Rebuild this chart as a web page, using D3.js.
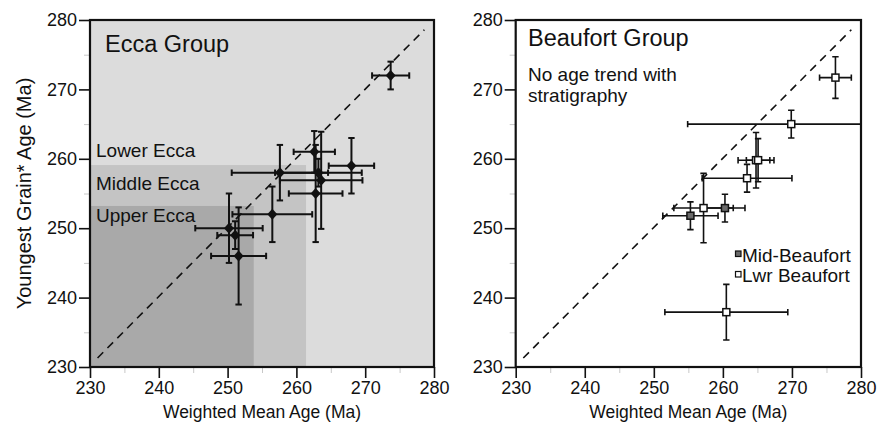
<!DOCTYPE html>
<html><head><meta charset="utf-8">
<script src="https://cdn.jsdelivr.net/npm/d3@7"></script>
<style>
body{margin:0;background:#fff;}
text{font-family:"Liberation Sans",Arial,sans-serif;fill:#111;}
</style></head>
<body><svg id="c" width="877" height="428"></svg>
<script>
// ---- data ----
const axisTicks = [230, 240, 250, 260, 270, 280];
const minorTicks = [235, 245, 255, 265, 275];
const domain = [230, 280];

// Ecca Group (left)
const eccaX    = [273.7, 262.6, 263.2, 257.6, 263.6, 262.8, 268.0, 256.5, 250.2, 251.1, 251.6];
const eccaY    = [272.0, 261.0, 258.0, 258.0, 256.9, 255.0, 259.0, 252.0, 250.0, 249.0, 246.0];
const eccaXErr = [2.7, 3.0, 6.3, 7.0, 6.0, 3.9, 3.3, 5.8, 4.9, 2.6, 4.0];
const eccaYErr = [2.0, 3.0, 2.0, 4.0, 7.0, 7.0, 4.0, 4.0, 5.0, 2.0, 7.0];

// stratigraphic zones (upper bound of x and y for each shaded box)
const zoneNames = ["Lower Ecca", "Middle Ecca", "Upper Ecca"];
const zoneXMax  = [280, 261.4, 253.8];
const zoneYMax  = [280, 259.1, 253.2];
const zoneFill  = ["#dcdcdc", "#c4c4c4", "#a9a9a9"];

// Beaufort Group (right)
const lwrX    = [276.3, 269.9, 264.8, 265.1, 263.5, 257.2, 260.5];
const lwrY    = [271.7, 265.0, 259.8, 259.8, 257.2, 252.9, 237.9];
const lwrXErr = [2.3, 15.0, 2.6, 1.7, 6.5, 4.3, 8.9];
const lwrYErr = [3.0, 2.0, 4.0, 3.1, 2.0, 5.0, 4.0];
const midX    = [255.3, 260.3];
const midY    = [251.8, 252.9];
const midXErr = [4.0, 2.9];
const midYErr = [2.0, 2.0];

const svg = d3.select("#c");
const plotTop = 20, plotBottom = 367;

function panel(x0, x1, id) {
  const x = d3.scaleLinear().domain(domain).range([x0, x1]);
  const y = d3.scaleLinear().domain(domain).range([plotBottom, plotTop]);
  const g = svg.append("g");
  svg.append("clipPath").attr("id", id).append("rect")
    .attr("x", x0).attr("y", plotTop).attr("width", x1 - x0).attr("height", plotBottom - plotTop);
  return {x, y, g, x0, x1};
}

function axes(p) {
  const minL = p.g.append("g").attr("transform", `translate(${p.x0},0)`)
    .call(d3.axisLeft(p.y).tickValues(minorTicks).tickSize(6).tickFormat(""));
  const minB = p.g.append("g").attr("transform", `translate(0,${plotBottom})`)
    .call(d3.axisBottom(p.x).tickValues(minorTicks).tickSize(6).tickFormat(""));
  [minL, minB].forEach(a => { a.select(".domain").remove(); a.selectAll("line").attr("stroke", "#c8c8c8").attr("stroke-width", 1); });
  const L = p.g.append("g").attr("transform", `translate(${p.x0},0)`)
    .call(d3.axisLeft(p.y).tickValues(axisTicks).tickSize(11).tickPadding(2).tickFormat(d3.format("d")));
  const B = p.g.append("g").attr("transform", `translate(0,${plotBottom})`)
    .call(d3.axisBottom(p.x).tickValues(axisTicks).tickSize(11).tickPadding(3).tickFormat(d3.format("d")));
  [L, B].forEach(a => {
    a.select(".domain").remove();
    a.selectAll("line").attr("stroke", "#111").attr("stroke-width", 1.6);
    a.selectAll("text").attr("font-size", 18).attr("font-family", "Liberation Sans, Arial, sans-serif").attr("fill", "#111");
  });
  p.g.append("rect").attr("x", p.x0).attr("y", plotTop).attr("width", p.x1 - p.x0).attr("height", plotBottom - plotTop)
    .attr("fill", "none").attr("stroke", "#111").attr("stroke-width", 2.2);
}

function oneToOne(p) {
  p.g.append("line")
    .attr("x1", p.x(231.1)).attr("y1", p.y(231.3))
    .attr("x2", p.x(278.6)).attr("y2", p.y(278.6))
    .attr("stroke", "#111").attr("stroke-width", 1.6).attr("stroke-dasharray", "8,6");
}

function errorBars(p, xs, ys, xe, ye, clip, sw) {
  const g = p.g.append("g").attr("clip-path", `url(#${clip})`).attr("stroke", "#111").attr("stroke-width", sw);
  const cap = 3.2;
  xs.forEach((v, i) => {
    const cx = p.x(v), cy = p.y(ys[i]);
    const xa = p.x(v - xe[i]), xb = p.x(v + xe[i]);
    const ya = p.y(ys[i] - ye[i]), yb = p.y(ys[i] + ye[i]);
    if (xe[i] > 0) {
      g.append("line").attr("x1", xa).attr("x2", xb).attr("y1", cy).attr("y2", cy);
      g.append("line").attr("x1", xa).attr("x2", xa).attr("y1", cy - cap).attr("y2", cy + cap);
      g.append("line").attr("x1", xb).attr("x2", xb).attr("y1", cy - cap).attr("y2", cy + cap);
    }
    g.append("line").attr("x1", cx).attr("x2", cx).attr("y1", ya).attr("y2", yb);
    g.append("line").attr("x1", cx - cap).attr("x2", cx + cap).attr("y1", ya).attr("y2", ya);
    g.append("line").attr("x1", cx - cap).attr("x2", cx + cap).attr("y1", yb).attr("y2", yb);
  });
}

// ---------- Left panel ----------
const A = panel(90, 434, "clipA");
zoneNames.forEach((n, i) => {
  A.g.append("rect").attr("x", A.x(230)).attr("y", A.y(zoneYMax[i]))
    .attr("width", A.x(zoneXMax[i]) - A.x(230)).attr("height", A.y(230) - A.y(zoneYMax[i]))
    .attr("fill", zoneFill[i]);
});
oneToOne(A);
errorBars(A, eccaX, eccaY, eccaXErr, eccaYErr, "clipA", 2);
A.g.append("g").selectAll("path").data(eccaX).join("path")
  .attr("transform", (d, i) => `translate(${A.x(d)},${A.y(eccaY[i])})`)
  .attr("d", "M0,-5.5L5,0L0,5.5L-5,0Z").attr("fill", "#111");
axes(A);
A.g.append("text").attr("x", 105).attr("y", 52).attr("font-size", 23.5).text("Ecca Group");
const zoneLabelY = [157, 189.5, 222];
zoneNames.forEach((n, i) => {
  A.g.append("text").attr("x", 96).attr("y", zoneLabelY[i]).attr("font-size", 19).text(n);
});
svg.append("text").attr("x", A.x(255)).attr("y", 418).attr("text-anchor", "middle").attr("font-size", 17.5)
  .text("Weighted Mean Age (Ma)");
svg.append("text").attr("transform", `translate(31,${A.y(255)}) rotate(-90)`).attr("text-anchor", "middle")
  .attr("font-size", 20).text("Youngest Grain* Age (Ma)");

// ---------- Right panel ----------
const Bp = panel(515.7, 861, "clipB");
Bp.g.append("rect").attr("x", Bp.x0).attr("y", plotTop).attr("width", Bp.x1 - Bp.x0).attr("height", plotBottom - plotTop).attr("fill", "#fff");
oneToOne(Bp);
errorBars(Bp, midX, midY, midXErr, midYErr, "clipB", 1.6);
errorBars(Bp, lwrX, lwrY, lwrXErr, lwrYErr, "clipB", 1.6);
const sq = 7;
Bp.g.append("g").selectAll("rect").data(midX).join("rect")
  .attr("x", d => Bp.x(d) - sq / 2).attr("y", (d, i) => Bp.y(midY[i]) - sq / 2)
  .attr("width", sq).attr("height", sq).attr("fill", "#6a6a6a").attr("stroke", "#111").attr("stroke-width", 1.5);
Bp.g.append("g").selectAll("rect").data(lwrX).join("rect")
  .attr("x", d => Bp.x(d) - sq / 2).attr("y", (d, i) => Bp.y(lwrY[i]) - sq / 2)
  .attr("width", sq).attr("height", sq).attr("fill", "#fff").attr("stroke", "#111").attr("stroke-width", 1.5);
axes(Bp);
Bp.g.append("text").attr("x", 528).attr("y", 46).attr("font-size", 23.5).text("Beaufort Group");
Bp.g.append("text").attr("x", 528).attr("y", 81).attr("font-size", 19).text("No age trend with");
Bp.g.append("text").attr("x", 528).attr("y", 102).attr("font-size", 19).text("stratigraphy");
// legend
const legNames = ["Mid-Beaufort", "Lwr Beaufort"];
const legFill = ["#6a6a6a", "#fff"];
const legY = [261.5, 282];
legNames.forEach((n, i) => {
  Bp.g.append("rect").attr("x", 735.5).attr("y", legY[i] - 10.5).attr("width", 5.5).attr("height", 5.5)
    .attr("fill", legFill[i]).attr("stroke", "#111").attr("stroke-width", 1.2);
  Bp.g.append("text").attr("x", 742).attr("y", legY[i]).attr("font-size", 19).text(n);
});
svg.append("text").attr("x", Bp.x(255)).attr("y", 418).attr("text-anchor", "middle").attr("font-size", 17.5)
  .text("Weighted Mean Age (Ma)");
</script></body></html>
